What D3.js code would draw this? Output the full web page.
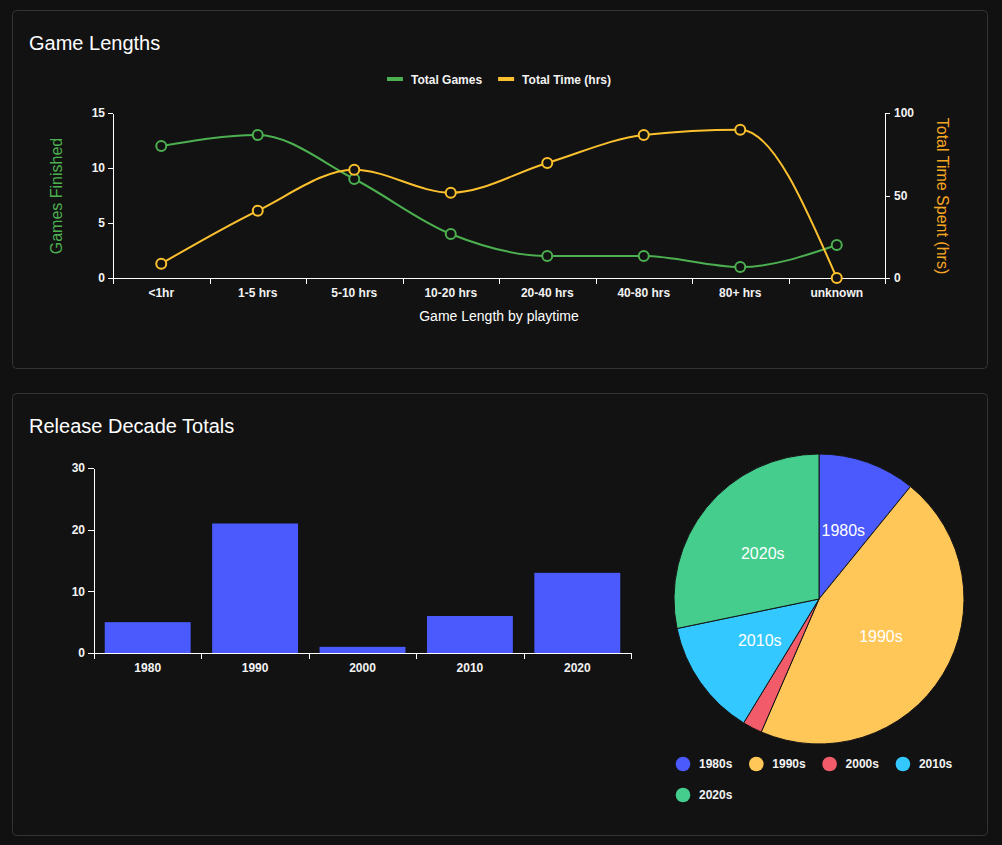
<!DOCTYPE html>
<html>
<head>
<meta charset="utf-8">
<script src="https://cdn.jsdelivr.net/npm/d3@7"></script>
<style>
  html, body { margin: 0; padding: 0; background: #111111; }
  svg { display: block; font-family: "Liberation Sans", Arial, Helvetica, sans-serif; }
</style>
</head>
<body>
<svg id="chart" width="1002" height="845"></svg>
<script>
// ---------- data ----------
const lengthCats = ["<1hr", "1-5 hrs", "5-10 hrs", "10-20 hrs", "20-40 hrs", "40-80 hrs", "80+ hrs", "unknown"];
const totalGames = [12, 13, 9, 4, 2, 2, 1, 3];
const totalTime = [8.7, 40.8, 65.6, 51.7, 69.7, 86.7, 89.9, 0];
const gamesTicks = [0, 5, 10, 15];
const timeTicks = [0, 50, 100];
const seriesNames = ["Total Games", "Total Time (hrs)"];

const decades = ["1980", "1990", "2000", "2010", "2020"];
const decadeCounts = [5, 21, 1, 6, 13];
const decadeLabels = ["1980s", "1990s", "2000s", "2010s", "2020s"];
const decadeTicks = [0, 10, 20, 30];

// ---------- styles ----------
const GREEN = "#4caf50";
const YELLOW = "#fbc02d";
const ORANGE = "#f5a623";
const BAR = "#4a5afc";
const PIE_COLORS = ["#4a5afc", "#ffc658", "#f25c6a", "#33c8ff", "#45cd8d"];
const TXT = "#f2f2f2";
const CARD_BG = "#121212";

const svg = d3.select("#chart");

// cards
[[12, 10, 975, 358], [12, 393, 975, 442]].forEach(([x, y, w, h]) => {
  svg.append("rect").attr("x", x + 0.5).attr("y", y + 0.5).attr("width", w).attr("height", h)
    .attr("rx", 4).attr("fill", CARD_BG).attr("stroke", "#333333").attr("stroke-width", 1);
});

svg.append("text").attr("x", 29).attr("y", 50).attr("fill", "#fff")
  .attr("font-size", 20).text("Game Lengths");
svg.append("text").attr("x", 29).attr("y", 433).attr("fill", "#fff")
  .attr("font-size", 20).text("Release Decade Totals");

function styleAxis(g) {
  g.selectAll("path.domain").attr("stroke", "#fff").attr("shape-rendering", "crispEdges");
  g.selectAll(".tick line").attr("stroke", "#fff").attr("shape-rendering", "crispEdges");
  g.selectAll(".tick text").attr("fill", TXT).attr("font-size", 12).attr("font-weight", "bold")
    .attr("font-family", "'Liberation Sans', Arial, sans-serif");
}

// ---------- Chart 1: line chart ----------
const x1 = d3.scaleBand().domain(lengthCats).range([113, 885]);
const yL = d3.scaleLinear().domain([0, 15]).range([278, 113]);
const yR = d3.scaleLinear().domain([0, 100]).range([278, 113]);

const gx1 = svg.append("g").attr("transform", "translate(0,278)")
  .call(d3.axisBottom(x1).tickSize(0).tickPadding(10).tickSizeOuter(0));
styleAxis(gx1);
// ticks at band edges
const edges1 = lengthCats.map(c => x1(c)).concat([x1.range()[1]]);
gx1.selectAll("line.edge").data(edges1).join("line").attr("class", "edge")
  .attr("x1", d => Math.round(d) + 0.5).attr("x2", d => Math.round(d) + 0.5)
  .attr("y1", 0).attr("y2", 6).attr("stroke", "#fff");

const gyL = svg.append("g").attr("transform", "translate(113,0)")
  .call(d3.axisLeft(yL).tickValues(gamesTicks).tickSize(5).tickPadding(3).tickSizeOuter(0));
styleAxis(gyL);
const gyR = svg.append("g").attr("transform", "translate(885,0)")
  .call(d3.axisRight(yR).tickValues(timeTicks).tickSize(5).tickPadding(4).tickSizeOuter(0));
styleAxis(gyR);

svg.append("text").attr("transform", "translate(62,196) rotate(-90)")
  .attr("text-anchor", "middle").attr("fill", GREEN).attr("font-size", 16).text("Games Finished");
svg.append("text").attr("transform", "translate(937,196) rotate(90)")
  .attr("text-anchor", "middle").attr("fill", ORANGE).attr("font-size", 16).text("Total Time Spent (hrs)");
svg.append("text").attr("x", 499).attr("y", 321).attr("text-anchor", "middle")
  .attr("fill", "#fff").attr("font-size", 14).text("Game Length by playtime");

const cx1 = c => x1(c) + x1.bandwidth() / 2;
const series = [
  { vals: totalGames, y: yL, color: GREEN },
  { vals: totalTime, y: yR, color: YELLOW }
];
series.forEach(s => {
  const line = d3.line().x((d, i) => cx1(lengthCats[i])).y(d => s.y(d)).curve(d3.curveMonotoneX);
  svg.append("path").attr("d", line(s.vals)).attr("fill", "none")
    .attr("stroke", s.color).attr("stroke-width", 2);
});
series.forEach(s => {
  svg.append("g").selectAll("circle").data(s.vals).join("circle")
    .attr("cx", (d, i) => cx1(lengthCats[i])).attr("cy", d => s.y(d)).attr("r", 5)
    .attr("fill", CARD_BG).attr("stroke", s.color).attr("stroke-width", 2);
});

// legend
const leg = svg.append("g");
const legItems = leg.selectAll("g").data(seriesNames).join("g");
legItems.append("rect").attr("x", 0).attr("y", -2).attr("width", 16).attr("height", 4)
  .attr("fill", (d, i) => [GREEN, YELLOW][i]);
legItems.append("text").attr("x", 24).attr("y", 4.5).attr("fill", TXT)
  .attr("font-size", 12).attr("font-weight", "bold").text(d => d);
let widths = [];
legItems.each(function () { widths.push(24 + this.querySelector("text").getComputedTextLength()); });
const legGap = 16;
const legTotal = d3.sum(widths) + legGap * (widths.length - 1);
let lx = 499 - legTotal / 2;
legItems.attr("transform", (d, i) => {
  const t = `translate(${lx},79)`;
  lx += widths[i] + legGap;
  return t;
});

// ---------- Chart 2: bar chart ----------
const x2 = d3.scaleBand().domain(decades).range([94, 631]);
const y2 = d3.scaleLinear().domain([0, 30]).range([653, 468]);

svg.append("g").selectAll("rect").data(decadeCounts).join("rect")
  .attr("x", (d, i) => x2(decades[i]) + x2.bandwidth() * 0.1)
  .attr("width", x2.bandwidth() * 0.8)
  .attr("y", d => y2(d)).attr("height", d => y2(0) - y2(d))
  .attr("fill", BAR);

const gx2 = svg.append("g").attr("transform", "translate(0,653)")
  .call(d3.axisBottom(x2).tickSize(0).tickPadding(10).tickSizeOuter(0));
styleAxis(gx2);
const edges2 = decades.map(c => x2(c)).concat([x2.range()[1]]);
gx2.selectAll("line.edge").data(edges2).join("line").attr("class", "edge")
  .attr("x1", d => Math.round(d) + 0.5).attr("x2", d => Math.round(d) + 0.5)
  .attr("y1", 0).attr("y2", 6).attr("stroke", "#fff");

const gy2 = svg.append("g").attr("transform", "translate(94,0)")
  .call(d3.axisLeft(y2).tickValues(decadeTicks).tickSize(6).tickPadding(3).tickSizeOuter(0));
styleAxis(gy2);

// ---------- Chart 3: pie ----------
const pcx = 819, pcy = 599, pr = 145;
const pie = d3.pie().sort(null).value(d => d);
const arcs = pie(decadeCounts);
const arc = d3.arc().innerRadius(0).outerRadius(pr);
const total = d3.sum(decadeCounts);
const pg = svg.append("g").attr("transform", `translate(${pcx},${pcy})`);
pg.selectAll("path").data(arcs).join("path").attr("d", arc)
  .attr("fill", (d, i) => PIE_COLORS[i]).attr("stroke", "#151515").attr("stroke-width", 1);
pg.selectAll("text").data(arcs.filter(a => a.data / total > 0.05)).join("text")
  .attr("transform", d => `translate(${arc.centroid(d)})`)
  .attr("text-anchor", "middle").attr("dy", "0.35em")
  .attr("fill", "#fff").attr("font-size", 16)
  .text(d => decadeLabels[d.index]);

// pie legend
const pl = svg.append("g");
const perRow = 4, step = 73.3;
const plItems = pl.selectAll("g").data(decadeLabels).join("g")
  .attr("transform", (d, i) => `translate(${683 + (i % perRow) * step},${764 + Math.floor(i / perRow) * 31})`);
plItems.append("circle").attr("r", 7.3).attr("fill", (d, i) => PIE_COLORS[i]);
plItems.append("text").attr("x", 16).attr("y", 4.3).attr("fill", TXT)
  .attr("font-size", 12).attr("font-weight", "bold").text(d => d);
</script>
</body>
</html>
